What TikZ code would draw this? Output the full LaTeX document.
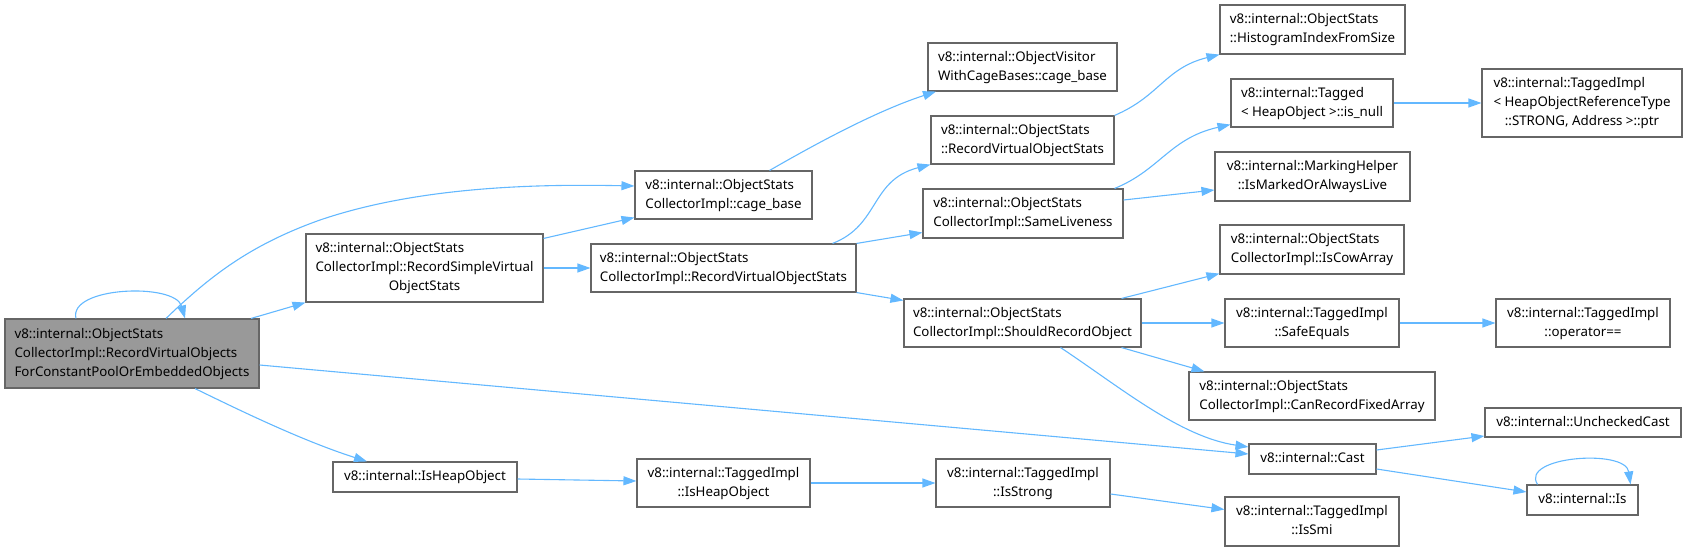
\documentclass[tikz,border=0pt]{standalone}
\usepackage{fontspec}
\setmainfont{Noto Sans}
\usetikzlibrary{arrows.meta}
\definecolor{edgeblue}{HTML}{63B8FF}
\definecolor{boxline}{HTML}{666666}
\definecolor{boxfill}{HTML}{999999}
\newcommand{\lft}[1]{\multicolumn{1}{@{}l@{}}{#1}\\}
\newcommand{\fn}[1]{\begin{tabular}{@{}c@{}}#1\end{tabular}}
\tikzset{
    fnbox/.style={draw=boxline, line width=1.1pt, inner sep=0pt, font=\fontsize{13.3}{19}\selectfont},
    fnmain/.style={fnbox, fill=boxfill},
    call/.style={draw=edgeblue, line width=1.1pt, -{Triangle[length=13pt,width=9pt]}},
}

\begin{document}
\begin{tikzpicture}[x=1pt, y=-1pt]
    \useasboundingbox (0,0) rectangle (1688,551);
    \node[fnmain, minimum width=254, minimum height=69] (main) at (132,353.5) {\fn{\lft{v8::internal::ObjectStats}\lft{CollectorImpl::RecordVirtualObjects}ForConstantPoolOrEmbeddedObjects}};
    \node[fnbox, minimum width=237, minimum height=68] (simple) at (424.5,268) {\fn{\lft{v8::internal::ObjectStats}\lft{CollectorImpl::RecordSimpleVirtual}ObjectStats}};
    \node[fnbox, minimum width=184, minimum height=30] (isheap) at (425,477) {\fn{v8::internal::IsHeapObject}};
    \node[fnbox, minimum width=177, minimum height=48] (cage) at (723.5,195) {\fn{\lft{v8::internal::ObjectStats}CollectorImpl::cage\_base}};
    \node[fnbox, minimum width=265, minimum height=48] (rvos) at (723.5,268) {\fn{\lft{v8::internal::ObjectStats}CollectorImpl::RecordVirtualObjectStats}};
    \node[fnbox, minimum width=173, minimum height=48] (tiheap) at (723.5,483) {\fn{\lft{v8::internal::TaggedImpl}::IsHeapObject}};
    \node[fnbox, minimum width=189, minimum height=48] (visitor) at (1022.5,67) {\fn{\lft{v8::internal::ObjectVisitor}WithCageBases::cage\_base}};
    \node[fnbox, minimum width=183, minimum height=48] (osrvos) at (1022.5,140) {\fn{\lft{v8::internal::ObjectStats}::RecordVirtualObjectStats}};
    \node[fnbox, minimum width=200, minimum height=49] (same) at (1023,213.5) {\fn{\lft{v8::internal::ObjectStats}CollectorImpl::SameLiveness}};
    \node[fnbox, minimum width=237, minimum height=48] (should) at (1022.5,323) {\fn{\lft{v8::internal::ObjectStats}CollectorImpl::ShouldRecordObject}};
    \node[fnbox, minimum width=174, minimum height=48] (strong) at (1023,483) {\fn{\lft{v8::internal::TaggedImpl}::IsStrong}};
    \node[fnbox, minimum width=185, minimum height=49] (histo) at (1312.5,29.5) {\fn{\lft{v8::internal::ObjectStats}::HistogramIndexFromSize}};
    \node[fnbox, minimum width=162, minimum height=48] (isnull) at (1312,103) {\fn{\lft{v8::internal::Tagged}< HeapObject >::is\_null}};
    \node[fnbox, minimum width=195, minimum height=49] (marking) at (1312.5,176.5) {\fn{\lft{v8::internal::MarkingHelper}::IsMarkedOrAlwaysLive}};
    \node[fnbox, minimum width=184, minimum height=49] (cow) at (1312,249.5) {\fn{\lft{v8::internal::ObjectStats}CollectorImpl::IsCowArray}};
    \node[fnbox, minimum width=174, minimum height=48] (safeeq) at (1312,323) {\fn{\lft{v8::internal::TaggedImpl}::SafeEquals}};
    \node[fnbox, minimum width=246, minimum height=48] (canrec) at (1312,396) {\fn{\lft{v8::internal::ObjectStats}CollectorImpl::CanRecordFixedArray}};
    \node[fnbox, minimum width=127, minimum height=30] (cast) at (1312.5,459) {\fn{v8::internal::Cast}};
    \node[fnbox, minimum width=174, minimum height=49] (ismi) at (1312,521.5) {\fn{\lft{v8::internal::TaggedImpl}::IsSmi}};
    \node[fnbox, minimum width=200, minimum height=68] (ptr) at (1582,103) {\fn{\lft{v8::internal::TaggedImpl}\lft{< HeapObjectReferenceType}::STRONG, Address >::ptr}};
    \node[fnbox, minimum width=174, minimum height=48] (opeq) at (1583,323) {\fn{\lft{v8::internal::TaggedImpl}::operator==}};
    \node[fnbox, minimum width=196, minimum height=29] (unchecked) at (1583,422.5) {\fn{v8::internal::UncheckedCast}};
    \node[fnbox, minimum width=111, minimum height=30] (isfn) at (1582.5,500) {\fn{v8::internal::Is}};

    \draw[call] ([xshift=-56]main.north) .. controls +(-8,-32) and +(-10,-36) .. ([xshift=53]main.north);
    \draw[call] ([xshift=34]main.north) .. controls (210,276) and (250,245) .. (320,220) .. controls (420,186) and (540,184) .. ([yshift=9]cage.west);
    \draw[call] ([xshift=119]main.north) -- (simple.south west);
    \draw[call] ([yshift=-11.5]main.east) -- ([yshift=5]cast.west);
    \draw[call] ([xshift=63]main.south) .. controls (235,408) and (300,440) .. ([xshift=-58]isheap.north);
    \draw[call] ([yshift=-5]simple.north east) -- ([yshift=2]cage.south west);
    \draw[call] (simple.east) -- (rvos.west);
    \draw[call] ([xshift=46]cage.north) .. controls (800,153) and (870,113) .. ([xshift=-86.5]visitor.south);
    \draw[call] ([xshift=109]rvos.north) .. controls (880,225) and (870,180) .. (osrvos.south west);
    \draw[call] (rvos.north east) -- ([yshift=-19]same.west);
    \draw[call] (rvos.south east) -- ([yshift=-2]should.north west);
    \draw[call] (osrvos.north east) .. controls (1160,96) and (1165,68) .. (histo.south west);
    \draw[call] ([xshift=-9]same.north east) .. controls (1160,170) and (1170,138) .. ([yshift=3]isnull.south west);
    \draw[call] ([yshift=13.5]same.east) -- ([yshift=-13.5]marking.west);
    \draw[call] (isnull.east) -- (ptr.west);
    \draw[call] ([xshift=99]should.north) -- ([yshift=1]cow.south west);
    \draw[call] (should.east) -- (safeeq.west);
    \draw[call] ([xshift=99]should.south) -- ([xshift=16]canrec.north west);
    \draw[call] ([xshift=38]should.south) .. controls (1120,387) and (1180,437) .. ([yshift=12]cast.west);
    \draw[call] (safeeq.east) -- (opeq.west);
    \draw[call] ([yshift=9]cast.east) -- ([yshift=-13.5]unchecked.west);
    \draw[call] ([yshift=-10]cast.east) -- ([yshift=8]isfn.west);
    \draw[call] ([xshift=-45]isfn.north) .. controls +(-18,-28) and +(-5,-36) .. ([xshift=48]isfn.north);
    \draw[call] ([yshift=-2]isheap.east) -- ([yshift=2]tiheap.west);
    \draw[call] (tiheap.east) -- (strong.west);
    \draw[call] ([yshift=-11]strong.east) -- ([yshift=12]ismi.west);
\end{tikzpicture}
\end{document}
